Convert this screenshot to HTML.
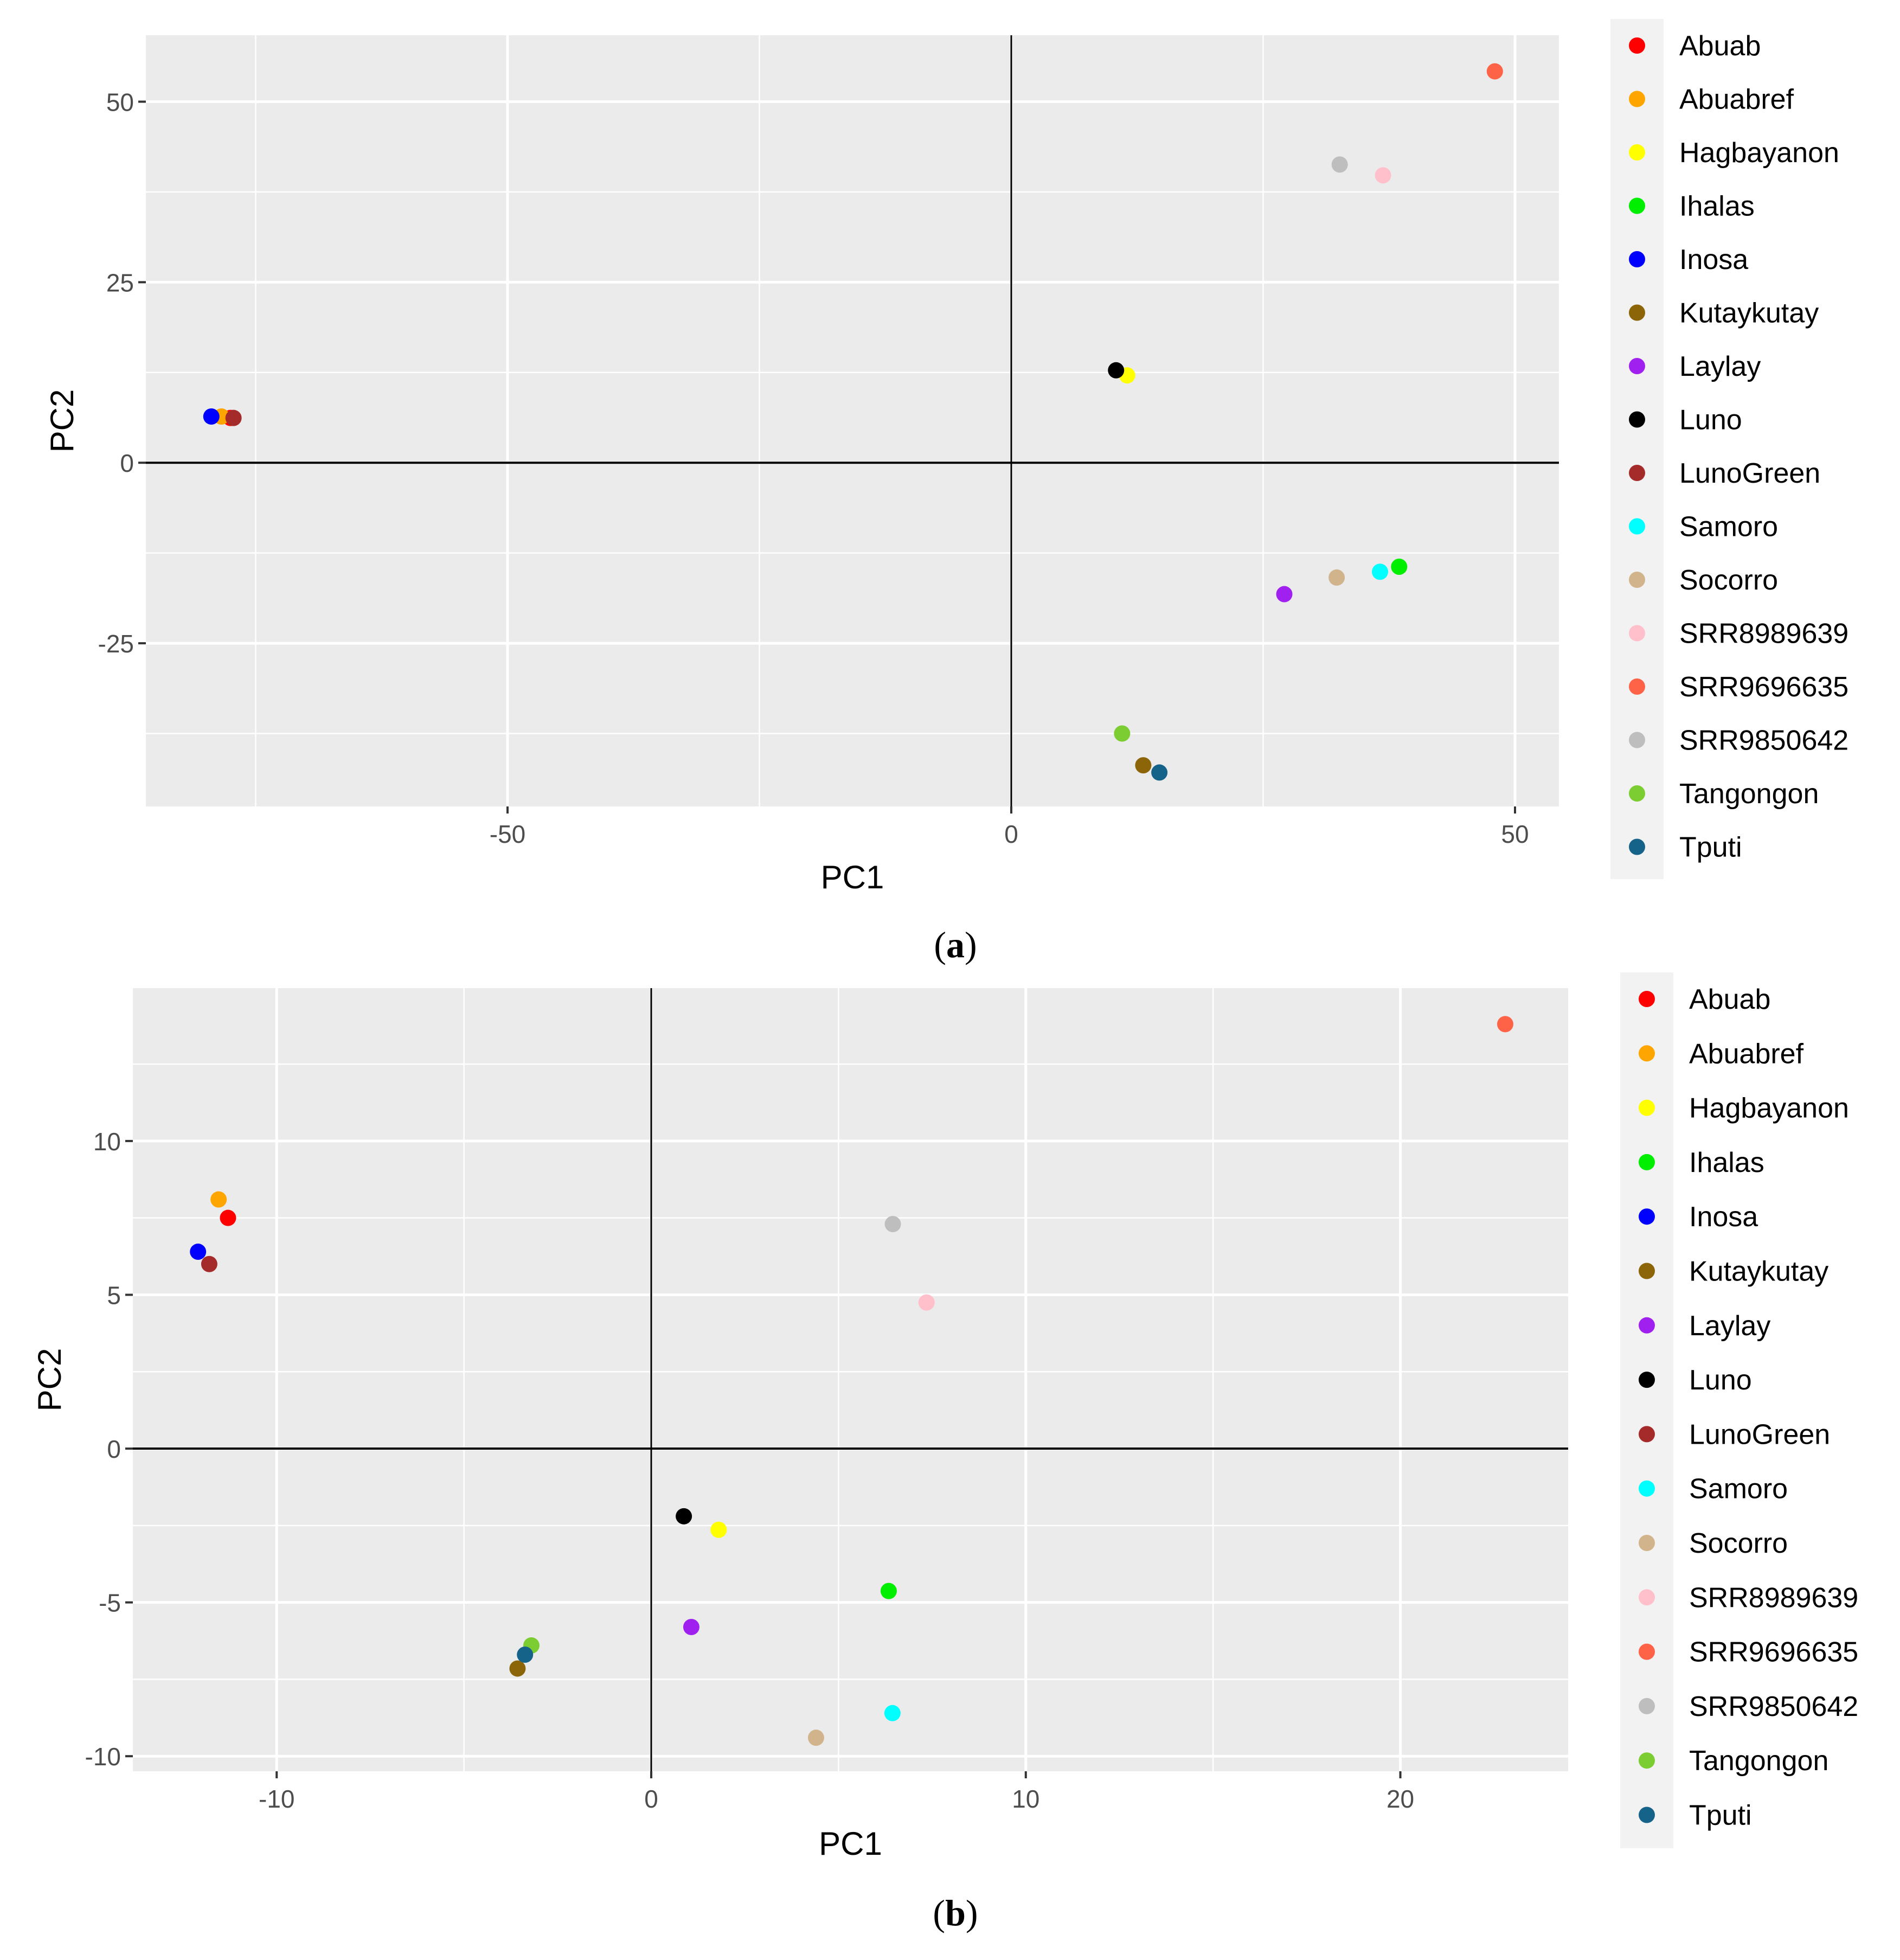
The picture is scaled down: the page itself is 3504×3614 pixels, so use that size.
<!DOCTYPE html>
<html><head><meta charset="utf-8">
<style>
html,body{margin:0;padding:0;background:#fff;}
svg{display:block;}
text{font-family:"Liberation Sans",sans-serif;}
text.cap{font-family:"Liberation Serif",serif;}
</style></head>
<body>
<svg id="fig" width="3504" height="3614" viewBox="0 0 3504 3614" xmlns="http://www.w3.org/2000/svg"></svg>
<script>
const names = ["Abuab","Abuabref","Hagbayanon","Ihalas","Inosa","Kutaykutay","Laylay","Luno","LunoGreen","Samoro","Socorro","SRR8989639","SRR9696635","SRR9850642","Tangongon","Tputi"];
const colors = ["#FF0000","#FFA500","#FFFF00","#00EE00","#0000FF","#8B6508","#A020F0","#000000","#A52A2A","#00FFFF","#D2B48C","#FFC0CB","#FF6347","#BEBEBE","#7CCD32","#16638A"];
// panel a values
const aPC1 = [-77.5,-78.4,11.5,38.5,-79.4,13.1,27.1,10.4,-77.2,36.6,32.3,36.9,48.0,32.6,11.0,14.7];
const aPC2 = [6.2,6.4,12.1,-14.4,6.4,-41.9,-18.2,12.8,6.2,-15.1,-15.9,39.8,54.2,41.3,-37.5,-42.9];
const aXTicks = [-50,0,50];
const aYTicks = [-25,0,25,50];
// panel b values
const bPC1 = [-11.3,-11.55,1.8,6.34,-12.1,-3.57,1.07,0.87,-11.8,6.44,4.4,7.35,22.8,6.45,-3.2,-3.37];
const bPC2 = [7.5,8.1,-2.64,-4.63,6.4,-7.15,-5.8,-2.2,6.0,-8.6,-9.4,4.75,13.8,7.3,-6.4,-6.7];
const bXTicks = [-10,0,10,20];
const bYTicks = [-10,-5,0,5,10];

const NS="http://www.w3.org/2000/svg";
const svg=document.getElementById('fig');
function el(tag,attrs,parent){const e=document.createElementNS(NS,tag);for(const k in attrs)e.setAttribute(k,attrs[k]);(parent||svg).appendChild(e);return e;}

function panel(cfg){
  const g=el('g',{});
  
  
  const {L,R,T,B,x0,x1,y0,y1}=cfg;
  const sx=v=>L+(v-x0)/(x1-x0)*(R-L);
  const sy=v=>B-(v-y0)/(y1-y0)*(B-T);
  const bg=el('rect',{x:L,y:T,width:R-L,height:B-T,fill:'#EBEBEB'},g);
  
  
  const xs=cfg.xt, ys=cfg.yt;
  const xstep=xs[1]-xs[0], ystep=ys[1]-ys[0];
  for(let v=xs[0]-xstep*2+xstep/2; v<x1; v+=xstep){ if(v>x0) el('line',{x1:sx(v),x2:sx(v),y1:T,y2:B,stroke:'#fff','stroke-width':2.5},g);}
  for(let v=ys[0]-ystep*2+ystep/2; v<y1; v+=ystep){ if(v>y0) el('line',{x1:L,x2:R,y1:sy(v),y2:sy(v),stroke:'#fff','stroke-width':2.5},g);}
  xs.forEach(v=>el('line',{x1:sx(v),x2:sx(v),y1:T,y2:B,stroke:'#fff','stroke-width':5},g));
  ys.forEach(v=>el('line',{x1:L,x2:R,y1:sy(v),y2:sy(v),stroke:'#fff','stroke-width':5},g));
  const hl=el('line',{x1:L,x2:R,y1:sy(0),y2:sy(0),stroke:'#000','stroke-width':4},g);
  
  
  const vl=el('line',{x1:sx(0),x2:sx(0),y1:T,y2:B,stroke:'#000','stroke-width':3},g);
  
  
  xs.forEach(v=>{
    el('line',{x1:sx(v),x2:sx(v),y1:B,y2:B+13,stroke:'#333','stroke-width':4},g);
    const t=el('text',{x:sx(v),y:B+67,'font-size':46,fill:'#4D4D4D','text-anchor':'middle'},g);
    t.textContent=v;
    
    
  });
  ys.forEach(v=>{
    el('line',{x1:L-14,x2:L,y1:sy(v),y2:sy(v),stroke:'#333','stroke-width':4},g);
    const t=el('text',{x:L-22,y:sy(v)+17,'font-size':46,fill:'#4D4D4D','text-anchor':'end'},g);
    t.textContent=v;
    
    
  });
  const xt=el('text',{x:(L+R)/2,y:cfg.xtY,'font-size':60,fill:'#000','text-anchor':'middle'},g);
  xt.textContent='PC1';
  
  
  const yt=el('text',{x:0,y:0,'font-size':60,fill:'#000','text-anchor':'middle',transform:`translate(${cfg.ytX},${(T+B)/2}) rotate(-90)`},g);
  yt.textContent='PC2';
  
  
  cfg.px.forEach((v,i)=>{
    const c=el('circle',{cx:sx(v),cy:sy(cfg.py[i]),r:15,fill:colors[i]},g);
    
    
  });
  const lg=el('g',{},g);
  
  
  el('rect',{x:cfg.lgX,y:cfg.lgT,width:98,height:cfg.lgStep*16+10,fill:'#F2F2F2'},lg);
  names.forEach((n,i)=>{
    const cy=cfg.lgT+49+i*cfg.lgStep;
    const e=el('g',{},lg);
    
    
    el('circle',{cx:cfg.lgX+49,cy:cy,r:15,fill:colors[i]},e);
    const t=el('text',{x:cfg.lgX+127,y:cy+18,'font-size':52,fill:'#000'},e);
    t.textContent=n;
  });
  const cap=el('text',{x:1762,y:cfg.capY,'font-size':68,fill:'#000','text-anchor':'middle','class':'cap'},g);
  cap.innerHTML='(<tspan font-weight="bold">'+cfg.cap+'</tspan>)';
  
  
}

panel({id:'panel-a',L:269,R:2875,T:65,B:1487,x0:-85.9,x1:54.36,y0:-47.6,y1:59.2,
  xt:aXTicks,yt:aYTicks,px:aPC1,py:aPC2,xtY:1638,ytX:135,lgX:2970,lgT:35,lgStep:98.5,capY:1765,cap:'a'});
panel({id:'panel-b',L:245,R:2892,T:1822,B:3266,x0:-13.84,x1:24.48,y0:-10.49,y1:14.97,
  xt:bXTicks,yt:bYTicks,px:bPC1,py:bPC2,xtY:3420,ytX:112,lgX:2988,lgT:1793,lgStep:100.3,capY:3550,cap:'b'});
</script>
</body></html>
